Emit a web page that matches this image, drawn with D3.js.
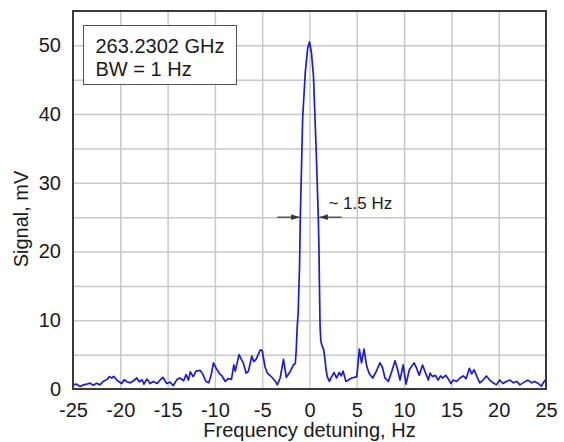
<!DOCTYPE html>
<html>
<head>
<meta charset="utf-8">
<script src="https://cdn.jsdelivr.net/npm/d3@7"></script>
<style>
  body { margin: 0; background: #fff; }
  text { font-family: "Liberation Sans", Arial, sans-serif; fill: #1a1a1a; }
</style>
</head>
<body>
<svg width="564" height="442"></svg>
<script>
// detuning (Hz) and signal (mV)
var freq = [-25.0, -24.6, -24.25, -23.9, -23.55, -23.2, -22.85, -22.5, -22.15, -21.8, -21.4, -21.15, -20.9, -20.7,
  -20.3, -19.85, -19.6, -19.3, -18.95, -18.6, -18.25, -18.0, -17.7, -17.5, -17.2, -16.85, -16.5, -16.1, -15.8,
  -15.5, -15.1, -14.75, -14.4, -14.0, -13.7, -13.3, -13.05, -12.8, -12.6, -12.3, -12.0, -11.55, -11.3, -10.95,
  -10.65, -10.4, -10.15, -9.9, -9.5, -9.25, -8.9, -8.6, -8.25, -8.0, -7.85, -7.45, -7.2, -7.0, -6.7, -6.45, -6.1,
  -5.9, -5.65, -5.2, -5.0, -4.7, -4.45, -4.2, -3.9, -3.6, -3.4, -3.1, -2.75, -2.45, -2.05, -1.7, -1.5, -1.4, -1.3,
  -1.2, -1.05, -0.97, -0.72, -0.45, -0.2, 0, 0.2, 0.42, 0.7, 0.93, 1.0, 1.04, 1.12, 1.2, 1.3, 1.5, 1.62, 1.75,
  1.88, 2.1, 2.3, 2.6, 2.85, 3.15, 3.35, 3.55, 3.85, 4.1, 4.45, 4.75, 5.0, 5.27, 5.5, 5.76, 6.05, 6.3, 6.68, 7.03,
  7.45, 7.7, 7.98, 8.33, 8.69, 9.04, 9.28, 9.57, 9.9, 10.2, 10.55, 11.05, 11.3, 11.6, 11.95, 12.25, 12.56, 12.75,
  13.0, 13.3, 13.6, 13.85, 14.1, 14.4, 14.65, 14.95, 15.2, 15.55, 15.9, 16.25, 16.55, 16.9, 17.15, 17.4, 17.7,
  18.0, 18.35, 18.7, 19.05, 19.4, 19.75, 20.1, 20.45, 20.8, 21.2, 21.55, 21.9, 22.25, 22.7, 23.1, 23.5, 23.8,
  24.15, 24.5, 24.9];
var signal = [0.6, 0.7, 0.35, 0.6, 0.7, 0.85, 0.55, 0.85, 0.6, 1.1, 1.4, 1.8, 1.6, 1.85,
  1.2, 0.8, 1.35, 1.05, 0.9, 1.2, 1.6, 1.05, 1.35, 0.7, 1.45, 0.8, 1.1, 0.8, 1.3,
  1.7, 0.8, 1.0, 0.5, 1.4, 1.6, 1.2, 2.1, 1.3, 2.5, 1.8, 2.6, 2.7, 2.2, 1.1,
  0.9, 2.0, 3.8, 3.1, 2.2, 1.9, 1.1, 1.5, 1.4, 3.5, 2.6, 5.0, 4.3, 3.8, 2.3, 2.6, 4.8,
  4.0, 4.3, 5.7, 5.6, 3.2, 2.3, 2.0, 1.6, 1.1, 0.6, 1.6, 4.3, 1.7, 2.5, 3.5, 3.7, 5.7, 9.0,
  11, 18, 25, 39.5, 46, 49.5, 50.5, 49, 45.5, 35, 25, 20.5, 16, 9, 7, 6.4, 5.7, 4.5, 2.8,
  1.8, 1.1, 1.7, 2.4, 1.6, 2.4, 1.9, 2.6, 1.1, 1.3, 1.6, 1.7, 1.8, 5.8, 3.8, 5.8, 3.3, 2.3, 1.6, 2.5,
  3.8, 3.2, 1.6, 1.1, 2.5, 4.1, 3.0, 1.3, 3.5, 0.7, 2.8, 3.8, 3.1, 2.0, 3.5, 2.4, 1.3, 2.3,
  1.8, 2.0, 1.3, 1.9, 1.6, 2.0, 1.5, 0.8, 1.3, 1.1, 1.6, 1.9, 1.5, 3.0, 2.2, 2.8, 1.8,
  0.9, 1.3, 1.9, 1.3, 0.9, 0.6, 1.3, 0.8, 1.1, 1.3, 0.9, 1.1, 0.6, 1.0, 1.3, 0.9, 1.1,
  0.85, 0.4, 1.3];

var xTicks = [-25, -20, -15, -10, -5, 0, 5, 10, 15, 20, 25];
var yTicks = [0, 10, 20, 30, 40, 50];
var xGrid = [-20, -15, -10, -5, 0, 5, 10, 15, 20];
var yGrid = [5, 10, 15, 20, 25, 30, 35, 40, 45, 50];
var infoLines = ["263.2302 GHz", "BW = 1 Hz"];
var widthLabel = "~ 1.5 Hz";
var halfMax = 25;
var halfEdges = [-1.05, 1.05];

var svg = d3.select('svg');
var W = +svg.attr('width'), H = +svg.attr('height');
var margin = {top: 11, right: 18, bottom: 53, left: 73};
var width = W - margin.left - margin.right;
var height = H - margin.top - margin.bottom;

var x = d3.scaleLinear().domain([-25, 25]).range([0, width]);
var y = d3.scaleLinear().domain([0, 55]).range([height, 0]);

var g = svg.append('g').attr('transform', 'translate(' + margin.left + ',' + margin.top + ')');

// grid
g.append('g')
  .attr('transform', 'translate(0,' + height + ')')
  .call(d3.axisBottom(x).tickValues(xGrid).tickSize(-height).tickFormat(''))
  .call(function(s) { s.select('.domain').remove(); })
  .selectAll('line').attr('stroke', '#c8c8c8').attr('stroke-width', 1.5);
g.append('g')
  .call(d3.axisLeft(y).tickValues(yGrid).tickSize(-width).tickFormat(''))
  .call(function(s) { s.select('.domain').remove(); })
  .selectAll('line').attr('stroke', '#c8c8c8').attr('stroke-width', 1.5);

// tick labels (plain hyphen minus like the original)
var xAxis = g.append('g')
  .attr('transform', 'translate(0,' + height + ')')
  .call(d3.axisBottom(x).tickValues(xTicks).tickSize(0).tickPadding(14)
    .tickFormat(function(d) { return String(d); }));
var yAxis = g.append('g')
  .call(d3.axisLeft(y).tickValues(yTicks).tickSize(0).tickPadding(12)
    .tickFormat(function(d) { return String(d); }));
[xAxis, yAxis].forEach(function(a) {
  a.select('.domain').remove();
  a.selectAll('text').style('font-size', '20px').attr('fill', '#1a1a1a')
    .style('font-family', '"Liberation Sans", Arial, sans-serif');
});

// trace
var line = d3.line()
  .x(function(d, i) { return x(freq[i]); })
  .y(function(d) { return y(d); });
g.append('path')
  .datum(signal)
  .attr('fill', 'none')
  .attr('stroke', '#1c1cd4')
  .attr('stroke-width', 1.7)
  .attr('stroke-linejoin', 'round')
  .attr('d', line);

// frame
g.append('rect')
  .attr('width', width).attr('height', height)
  .attr('fill', 'none').attr('stroke', '#3a3a3a').attr('stroke-width', 2);

// info box
var box = g.append('g').attr('transform', 'translate(10.5,14.5)');
box.append('rect').attr('width', 153).attr('height', 59)
  .attr('fill', '#fff').attr('stroke', '#555').attr('stroke-width', 1);
box.selectAll('text').data(infoLines).enter().append('text')
  .attr('x', 12).attr('y', function(d, i) { return 27 + i * 23; })
  .style('font-size', '20px')
  .text(function(d) { return d; });

// width markers
svg.append('defs').append('marker')
  .attr('id', 'ah').attr('viewBox', '0 0 10 10').attr('refX', 10).attr('refY', 5)
  .attr('markerWidth', 7).attr('markerHeight', 7).attr('orient', 'auto')
  .append('path').attr('d', 'M0,1.5L10,5L0,8.5Z').attr('fill', '#333');
var yh = y(halfMax);
g.append('line')
  .attr('x1', x(halfEdges[0] - 2.35)).attr('x2', x(halfEdges[0]))
  .attr('y1', yh).attr('y2', yh)
  .attr('stroke', '#333').attr('stroke-width', 1.2).attr('marker-end', 'url(#ah)');
g.append('line')
  .attr('x1', x(halfEdges[1] + 2.35)).attr('x2', x(halfEdges[1]))
  .attr('y1', yh).attr('y2', yh)
  .attr('stroke', '#333').attr('stroke-width', 1.2).attr('marker-end', 'url(#ah)');
g.append('text')
  .attr('x', x(2.0)).attr('y', yh - 8)
  .style('font-size', '17px')
  .text(widthLabel);

// axis titles
svg.append('text')
  .attr('x', margin.left + width / 2).attr('y', 437)
  .attr('text-anchor', 'middle')
  .style('font-size', '20px')
  .text('Frequency detuning, Hz');
svg.append('text')
  .attr('transform', 'translate(28,219) rotate(-90)')
  .attr('text-anchor', 'middle')
  .style('font-size', '20px')
  .text('Signal, mV');
</script>
</body>
</html>
